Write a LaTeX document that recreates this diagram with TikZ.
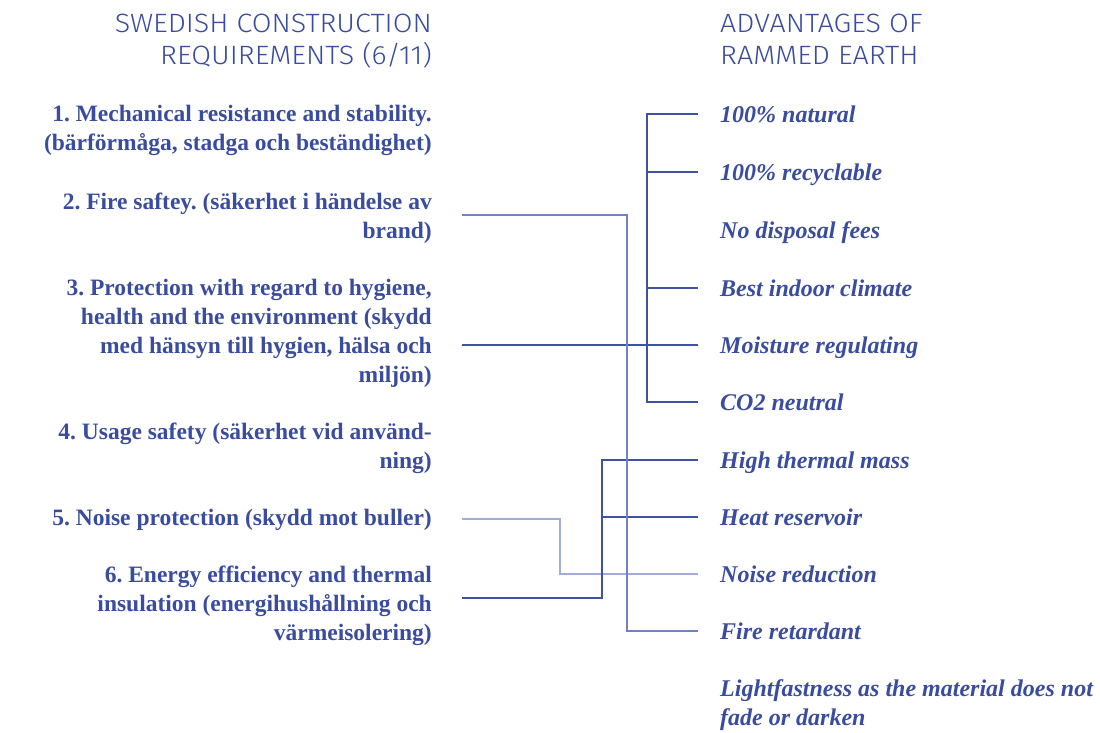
\documentclass[tikz,border=0pt]{standalone}
\usepackage{fontspec}
\setmainfont{Liberation Serif}
\newfontfamily\headfont{Fira Sans Light}[FakeStretch=1.08]
\definecolor{txt}{RGB}{58,76,158}
\definecolor{dk}{RGB}{61,82,165}
\definecolor{fire}{RGB}{112,130,198}
\definecolor{noise}{RGB}{160,172,220}
\frenchspacing
\begin{document}
\begin{tikzpicture}[x=1pt,y=-1pt,
  head/.style={inner sep=0pt, text=txt, font=\headfont\fontsize{26.5}{32}\selectfont},
  req/.style={inner sep=0pt, anchor=base east, align=right, text=txt, font=\frenchspacing\bfseries\fontsize{23.5}{28.8}\selectfont},
  adv/.style={inner sep=0pt, anchor=base west, align=left, text=txt, font=\frenchspacing\bfseries\itshape\fontsize{24}{28.5}\selectfont},
  dkline/.style={draw=dk, line width=2pt},
  fireline/.style={draw=fire, line width=2pt},
  noiseline/.style={draw=noise, line width=2pt}]
\useasboundingbox (0,0) rectangle (1100,732);
% headers (base anchor = last line baseline)
\node[head, anchor=base east, align=right] (hl) at (432,64) {SWEDISH CONSTRUCTION\\REQUIREMENTS (6/11)};
\node[head, anchor=base west, align=left] (hr) at (720,64) {ADVANTAGES OF\\RAMMED EARTH};
% requirements
\node[req] (r1) at (432,150) {1. Mechanical resistance and stability.\\(bärförmåga, stadga och beständighet)};
\node[req] (r2) at (432,238) {2. Fire saftey. (säkerhet i händelse av\\brand)};
\node[req] (r3) at (432,382) {3. Protection with regard to hygiene,\\health and the environment (skydd\\med hänsyn till hygien, hälsa och\\miljön)};
\node[req] (r4) at (432,468) {4. Usage safety (säkerhet vid använd-\\ning)};
\node[req] (r5) at (432,525) {5. Noise protection (skydd mot buller)};
\node[req] (r6) at (432,640) {6. Energy efficiency and thermal\\insulation (energihushållning och\\värmeisolering)};
% advantages
\node[adv] (a1) at (720,122) {100\% natural};
\node[adv] (a2) at (720,180) {100\% recyclable};
\node[adv] (a3) at (720,238) {No disposal fees};
\node[adv] (a4) at (720,296) {Best indoor climate};
\node[adv] (a5) at (720,353) {Moisture regulating};
\node[adv] (a6) at (720,410) {CO2 neutral};
\node[adv] (a7) at (720,468) {High thermal mass};
\node[adv] (a8) at (720,525) {Heat reservoir};
\node[adv] (a9) at (720,582) {Noise reduction};
\node[adv] (a10) at (720,639) {Fire retardant};
\node[adv] (a11) at (720,725) {Lightfastness as the material does not\\fade or darken};
% connector ends
\foreach \i in {1,...,10} {\coordinate (t\i) at ([xshift=-22pt,yshift=8pt]a\i.base west);}
\coordinate (s2) at ([xshift=30pt,yshift=23pt]r2.base east);
\coordinate (s3) at ([xshift=30pt]r3.east |- t5);
\coordinate (s5) at ([xshift=30pt,yshift=6pt]r5.base east);
\coordinate (s6) at ([xshift=30pt,yshift=42pt]r6.base east);
\coordinate (spA) at (647,0);
\coordinate (spB) at (627,0);
\coordinate (spC) at (560,0);
\coordinate (spD) at (602,0);
% connectors
\draw[noiseline] (s5) -| (t9 -| spC) -- (t9);
\draw[dkline] (t1) -- (t1 -| spA) -- (t6 -| spA) -- (t6);
\draw[dkline] (t2 -| spA) -- (t2);
\draw[dkline] (t4 -| spA) -- (t4);
\draw[dkline] (s3) -- (t5);
\draw[dkline] (s6) -| (t7 -| spD) -- (t7);
\draw[dkline] (t8 -| spD) -- (t8);
\draw[fireline] (s2) -| (t10 -| spB) -- (t10);
\end{tikzpicture}
\end{document}
